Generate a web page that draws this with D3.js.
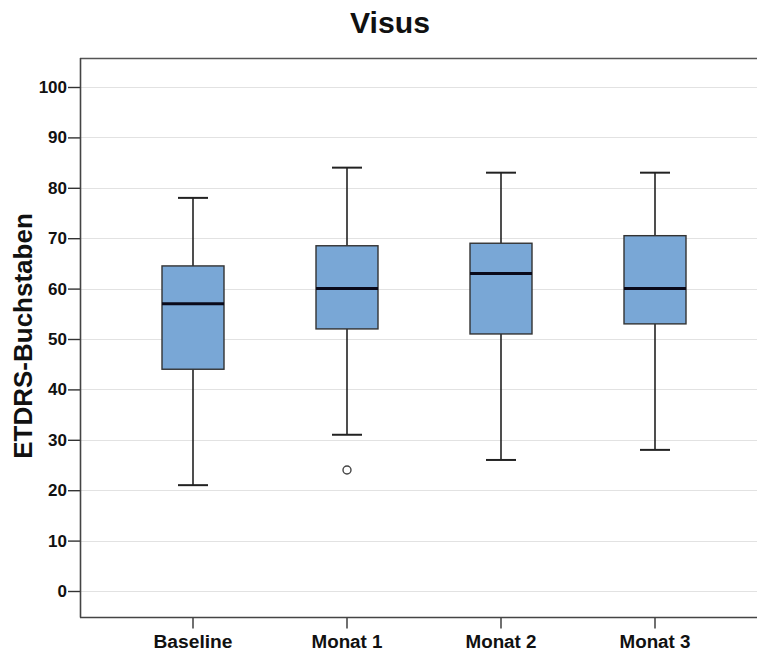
<!DOCTYPE html>
<html>
<head>
<meta charset="utf-8">
<script src="https://cdn.jsdelivr.net/npm/d3@7"></script>
<style>
  body { margin: 0; background: #fff; }
  text { font-family: "Liberation Sans", Arial, sans-serif; }
</style>
</head>
<body>
<svg width="757" height="651"></svg>
<script>
const width = 757;
const height = 651;

// data
const categories = ["Baseline", "Monat 1", "Monat 2", "Monat 3"];
const whiskerLow = [21, 31, 26, 28];
const q1 = [44, 52, 51, 53];
const median = [57, 60, 63, 60];
const q3 = [64.5, 68.5, 69, 70.5];
const whiskerHigh = [78, 84, 83, 83];
const outliers = [{ cat: "Monat 1", value: 24 }];
const yTicks = [0, 10, 20, 30, 40, 50, 60, 70, 80, 90, 100];

const boxes = categories.map((c, i) => ({
  cat: c,
  lo: whiskerLow[i],
  q1: q1[i],
  med: median[i],
  q3: q3[i],
  hi: whiskerHigh[i],
}));

const margin = { top: 58, right: 0, bottom: 33, left: 80 };

const svg = d3.select("svg");

const x = d3
  .scaleBand()
  .domain(categories)
  .range([margin.left + 36, 732])
  .paddingInner(0)
  .paddingOuter(0);

// 0 sits at 591, 100 at 87
const y = d3.scaleLinear().domain([0, 100]).range([591, 87]);
const yBottom = height - margin.bottom - 0.5; // x axis line

// grid lines
svg
  .append("g")
  .selectAll("line")
  .data(yTicks)
  .enter()
  .append("line")
  .attr("x1", margin.left)
  .attr("x2", width)
  .attr("y1", (d) => Math.round(y(d)) + 0.5)
  .attr("y2", (d) => Math.round(y(d)) + 0.5)
  .attr("stroke", "#e2e2e2")
  .attr("stroke-width", 1.2);

// frame: top line, left axis, bottom axis
svg
  .append("line")
  .attr("x1", margin.left)
  .attr("x2", width)
  .attr("y1", margin.top + 0.5)
  .attr("y2", margin.top + 0.5)
  .attr("stroke", "#555")
  .attr("stroke-width", 1.6);

const yAxis = svg
  .append("g")
  .attr("transform", `translate(${margin.left},0)`)
  .call(d3.axisLeft(y).tickValues(yTicks).tickSize(12).tickPadding(1).tickSizeOuter(0));
yAxis.select(".domain").remove();
yAxis
  .append("line")
  .attr("x1", 0.5)
  .attr("x2", 0.5)
  .attr("y1", margin.top)
  .attr("y2", yBottom)
  .attr("stroke", "#444")
  .attr("stroke-width", 1.6);
yAxis.selectAll(".tick line").attr("stroke", "#333").attr("stroke-width", 1.4);
yAxis
  .selectAll(".tick text")
  .attr("fill", "#111")
  .style("font-size", "17px")
  .style("font-weight", "bold");

const xAxis = svg
  .append("g")
  .attr("transform", `translate(0,${yBottom})`)
  .call(
    d3
      .axisBottom(x)
      .tickSize(11)
      .tickPadding(7)
      .tickSizeOuter(0)
  );
xAxis.select(".domain").remove();
xAxis
  .append("line")
  .attr("x1", margin.left)
  .attr("x2", width)
  .attr("y1", 0)
  .attr("y2", 0)
  .attr("stroke", "#444")
  .attr("stroke-width", 1.6);
xAxis.selectAll(".tick line").attr("stroke", "#333").attr("stroke-width", 1.4);
xAxis
  .selectAll(".tick text")
  .attr("fill", "#111")
  .style("font-size", "18px")
  .style("font-weight", "bold")
  .attr("textLength", (d) => (d === "Baseline" ? 79 : 71))
  .attr("lengthAdjust", "spacingAndGlyphs");

// boxes
const boxW = 62;
const capW = 30;
const cx = (d) => x(d.cat) + x.bandwidth() / 2;

const g = svg
  .append("g")
  .selectAll("g")
  .data(boxes)
  .enter()
  .append("g");

// whiskers
g.append("line")
  .attr("x1", cx)
  .attr("x2", cx)
  .attr("y1", (d) => y(d.hi))
  .attr("y2", (d) => y(d.q3))
  .attr("stroke", "#222")
  .attr("stroke-width", 1.6);
g.append("line")
  .attr("x1", cx)
  .attr("x2", cx)
  .attr("y1", (d) => y(d.q1))
  .attr("y2", (d) => y(d.lo))
  .attr("stroke", "#222")
  .attr("stroke-width", 1.6);
g.append("line")
  .attr("x1", (d) => cx(d) - capW / 2)
  .attr("x2", (d) => cx(d) + capW / 2)
  .attr("y1", (d) => y(d.hi))
  .attr("y2", (d) => y(d.hi))
  .attr("stroke", "#222")
  .attr("stroke-width", 2);
g.append("line")
  .attr("x1", (d) => cx(d) - capW / 2)
  .attr("x2", (d) => cx(d) + capW / 2)
  .attr("y1", (d) => y(d.lo))
  .attr("y2", (d) => y(d.lo))
  .attr("stroke", "#222")
  .attr("stroke-width", 2);

g.append("rect")
  .attr("x", (d) => cx(d) - boxW / 2)
  .attr("width", boxW)
  .attr("y", (d) => y(d.q3))
  .attr("height", (d) => y(d.q1) - y(d.q3))
  .attr("fill", "#79a7d6")
  .attr("stroke", "#333")
  .attr("stroke-width", 1.4);

g.append("line")
  .attr("x1", (d) => cx(d) - boxW / 2)
  .attr("x2", (d) => cx(d) + boxW / 2)
  .attr("y1", (d) => y(d.med))
  .attr("y2", (d) => y(d.med))
  .attr("stroke", "#0a0a1a")
  .attr("stroke-width", 3);

// outliers
svg
  .append("g")
  .selectAll("circle")
  .data(outliers)
  .enter()
  .append("circle")
  .attr("cx", (d) => x(d.cat) + x.bandwidth() / 2)
  .attr("cy", (d) => y(d.value))
  .attr("r", 4)
  .attr("fill", "#fff")
  .attr("stroke", "#444")
  .attr("stroke-width", 1.4);

// title
svg
  .append("text")
  .attr("x", 390)
  .attr("y", 33)
  .attr("text-anchor", "middle")
  .style("font-size", "29px")
  .style("font-weight", "bold")
  .attr("textLength", 80)
  .attr("lengthAdjust", "spacingAndGlyphs")
  .attr("fill", "#111")
  .text("Visus");

// y label
svg
  .append("text")
  .attr("transform", "translate(32,336) rotate(-90)")
  .attr("text-anchor", "middle")
  .style("font-size", "26px")
  .style("font-weight", "bold")
  .attr("fill", "#111")
  .text("ETDRS-Buchstaben");
</script>
</body>
</html>
